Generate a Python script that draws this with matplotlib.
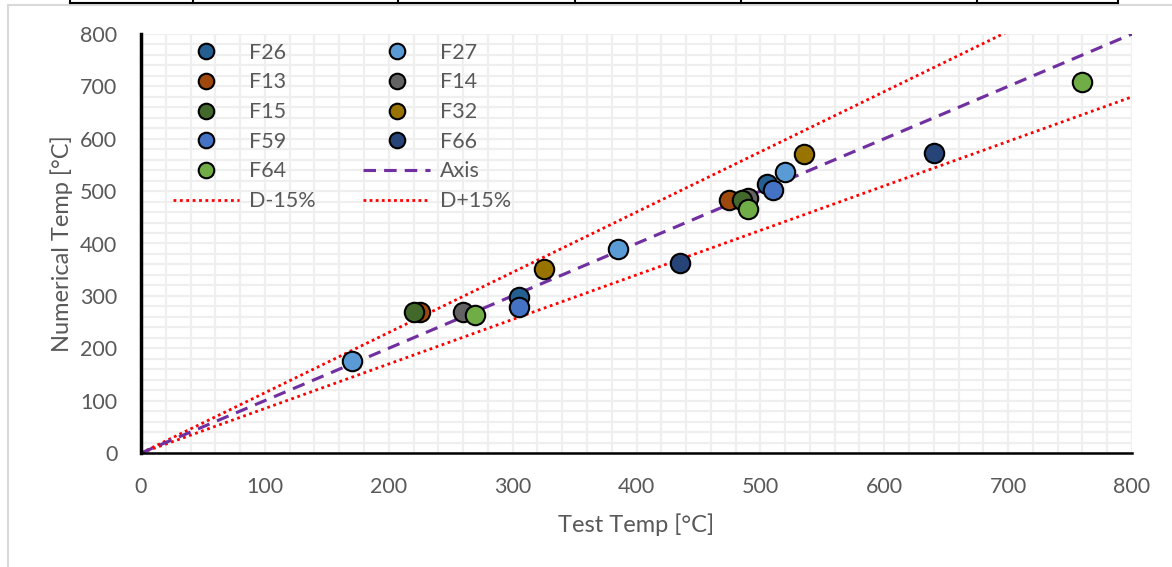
import matplotlib
matplotlib.use("Agg")
import matplotlib.pyplot as plt
from matplotlib.lines import Line2D

plt.rcParams['font.family'] = ['Lato', 'DejaVu Sans']

# ---- data ----
series_names = ["F26", "F27", "F13", "F14", "F15", "F32", "F59", "F66", "F64"]
series_colors = ["#255E91", "#5B9BD5", "#9E480E", "#636363", "#43682B",
                 "#997300", "#4472C4", "#264478", "#70AD47"]
F26_x = [305, 505];        F26_y = [297, 514]
F27_x = [170, 385, 520];   F27_y = [176, 389, 537]
F13_x = [225, 475];        F13_y = [269, 484]
F14_x = [260, 490];        F14_y = [269, 486]
F15_x = [220, 485];        F15_y = [269, 484]
F32_x = [325, 535];        F32_y = [352, 570]
F59_x = [305, 510];        F59_y = [278, 503]
F66_x = [435, 640];        F66_y = [362, 573]
F64_x = [270, 490, 760];   F64_y = [263, 466, 708]
series_x = [F26_x, F27_x, F13_x, F14_x, F15_x, F32_x, F59_x, F66_x, F64_x]
series_y = [F26_y, F27_y, F13_y, F14_y, F15_y, F32_y, F59_y, F66_y, F64_y]

line_x = [0, 800]
axis_y = [0, 800]
d_minus_y = [0, 680]    # 0.85 * x
d_plus_y = [0, 920]     # 1.15 * x
ticks = [0, 100, 200, 300, 400, 500, 600, 700, 800]
minor = list(range(0, 801, 20))

text_col = "#595959"

fig = plt.figure(figsize=(11.72, 5.67), dpi=100)
W, H = 1172, 567
ax = fig.add_axes([141 / W, 1 - 453 / H, (1132 - 141) / W, (453 - 34) / H])

ax.set_xlim(0, 800)
ax.set_ylim(0, 800)
ax.set_xticks(minor, minor=True)
ax.set_yticks(minor, minor=True)
ax.set_xticks(ticks)
ax.set_yticks(ticks)
ax.grid(True, which='both', color='#EFEFEF', lw=1.6, zorder=0)
ax.set_axisbelow(True)
ax.tick_params(which='both', length=0, labelsize=15.5, labelcolor=text_col)
ax.tick_params(axis='y', pad=17)
ax.tick_params(axis='x', pad=17)

for s in ['top', 'right']:
    ax.spines[s].set_visible(False)
ax.spines['left'].set_linewidth(2.5)
ax.spines['bottom'].set_linewidth(1.8)
ax.spines['left'].set_zorder(5)
ax.spines['bottom'].set_zorder(5)

h_minus, = ax.plot(line_x, d_minus_y, color='red', lw=2.0,
                   linestyle=(0, (1, 1.3)), zorder=2, label='D-15%')
h_plus, = ax.plot(line_x, d_plus_y, color='red', lw=2.0,
                  linestyle=(0, (1, 1.2)), zorder=2, label='D+15%')
h_axis, = ax.plot(line_x, axis_y, color='#7030A0', lw=2.25,
                  dashes=(4, 2.6), zorder=2, label='Axis')

handles = {}
for name, col, xs, ys in zip(series_names, series_colors, series_x, series_y):
    h, = ax.plot(xs, ys, linestyle='none', marker='o', markersize=14,
                 markerfacecolor=col, markeredgecolor='black',
                 markeredgewidth=1.5, zorder=3, label=name)
    handles[name] = h

leg_handles = [handles["F26"], handles["F13"], handles["F15"], handles["F59"],
               handles["F64"], h_minus,
               handles["F27"], handles["F14"], handles["F32"], handles["F66"],
               h_axis, h_plus]
leg = ax.legend(handles=leg_handles, ncol=2, loc='upper left',
                bbox_to_anchor=(0.019, 1.01), frameon=False, fontsize=15.5,
                handlelength=3.1, handletextpad=0.45, columnspacing=2.2,
                labelspacing=0.45, borderpad=0.1, markerscale=0.8)
for t in leg.get_texts():
    t.set_color(text_col)

ax.set_xlabel("Test Temp [°C]", fontsize=17, color=text_col, labelpad=12)
ax.set_ylabel("Numerical Temp [°C]", fontsize=17, color=text_col, labelpad=5)

# page decorations (frame of the screenshot)
fig.add_artist(Line2D([8 / W, 8 / W], [0, 1 - 5 / H], transform=fig.transFigure,
                      color='#D9D9D9', lw=1.5))
fig.add_artist(Line2D([8 / W, 1], [1 - 5 / H, 1 - 5 / H], transform=fig.transFigure,
                      color='#D9D9D9', lw=1.5))
fig.add_artist(Line2D([70 / W, 1118 / W], [1 - 3 / H, 1 - 3 / H],
                      transform=fig.transFigure, color='black', lw=1.5))
for xv in [70, 193, 398, 575, 741, 977, 1118]:
    fig.add_artist(Line2D([xv / W, xv / W], [1 - 3 / H, 1], transform=fig.transFigure,
                          color='black', lw=1.5))

fig.savefig("out.png", dpi=100)
